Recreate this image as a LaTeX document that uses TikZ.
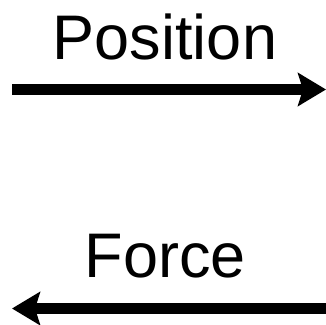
\documentclass[tikz,border=0pt]{standalone}
\usepackage{fontspec}
\setmainfont{Liberation Sans}
\usepackage{tikz}
\usetikzlibrary{positioning,arrows.meta}
\tikzset{
  flow/.style={line width=11pt, -{Stealth[length=28pt, width=33pt, inset=5pt]}},
  lbl/.style={font=\fontsize{63pt}{70pt}\selectfont, inner sep=0pt, anchor=base}
}
\begin{document}
\begin{tikzpicture}[x=1pt, y=1pt]
  \useasboundingbox (0,0) rectangle (326,324);
  % signal names
  \node[lbl] (pos) at (165,264){Position};
  \node[lbl] (frc) at (165.5,46.5){Force};
  % arrow ends
  \coordinate (pl) at (12,234.5);
  \coordinate (pr) at (326,234.5);
  \coordinate (fl) at (12,15.5);
  \coordinate (fr) at (326,15.5);
  \draw[flow] (pl) -- (pr);
  \draw[flow] (fr) -- (fl);
\end{tikzpicture}
\end{document}
